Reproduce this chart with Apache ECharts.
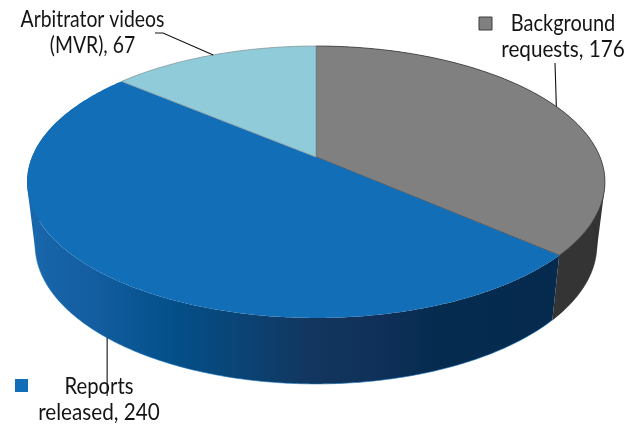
<!DOCTYPE html>
<html>
<head>
<meta charset="utf-8">
<style>html,body{margin:0;padding:0;background:#fff}#chart{width:642px;height:424px}</style>
<script src="https://cdn.jsdelivr.net/npm/echarts@6/dist/echarts.min.js"></script>
</head>
<body>
<div id="chart"></div>
<script>
// Request outcomes
const categories = ['Background requests', 'Reports released', 'Arbitrator videos (MVR)'];
const values = [176, 240, 67];
const labelLines = [['Background', 'requests, 176'], ['Reports', 'released, 240'], ['Arbitrator videos', '(MVR), 67']];

// Styling per slice
const faceColors = ['#808080', '#116eb7', '#8fcbd9'];
const faceStrokes = ['#3c3c3c', null, '#8c9a9e'];
const legendSlices = [0, 1];

// Label layout per slice: text centre, first line y, leader elbow, swatch corner
const labelCentres = [[563, 24], [99, 387], [92.5, 20]];
const leaderEnds = [[[555, 63]], [[107.5, 396]], [[163, 33], [155, 33]]];
const swatches = [[479, 17], [15, 379]];
const LINE_HEIGHT = 25.5;
const FONT = '22.5px Lato, "Open Sans", sans-serif';
const TEXT_SQUEEZE = [[0.89, 0.92], [0.9, 0.92], [0.86, 0.86]];

// Tilted disc: a perspective projection of the unit circle
const APEX = [316, 157];
const PROJ = { a: 102.5, c: -0.1838, d: 284 };
const TOP_CENTRE_Y = 182;
const BOTTOM = { cy: 245, sx: 0.972, sy: 1.022 };

const total = values.reduce((s, v) => s + v, 0);
const startAngle = i => values.slice(0, i).reduce((s, v) => s + v, 0) / total * Math.PI * 2;

function topRim(theta) {
  const v = Math.sin(theta), u = -Math.cos(theta), w = 1 + PROJ.c * u;
  return [APEX[0] + PROJ.d * v / w, (PROJ.a * u + APEX[1]) / w];
}
function bottomRim(theta) {
  const p = topRim(theta);
  return [APEX[0] + (p[0] - APEX[0]) * BOTTOM.sx, BOTTOM.cy + (p[1] - TOP_CENTRE_Y) * BOTTOM.sy];
}
function arc(a0, a1, fn) {
  const n = Math.max(2, Math.ceil((a1 - a0) / 0.01)), pts = [];
  for (let k = 0; k <= n; k++) pts.push(fn(a0 + (a1 - a0) * k / n));
  return pts;
}
function quadPath(q) {
  // Keep one winding so the overlapping quads fill as a single shape
  let area = 0;
  q.forEach((p, k) => { const n = q[(k + 1) % 4]; area += p[0] * n[1] - n[0] * p[1]; });
  const pts = area < 0 ? q.slice().reverse() : q;
  return 'M' + pts.map(p => p[0].toFixed(2) + ' ' + p[1].toFixed(2)).join('L') + 'Z';
}

// Side wall shading runs left to right across the disc
const wallFills = [
  '#333433',
  { type: 'linear', x: 20, y: 0, x2: 600, y2: 0, global: true, colorStops: [
    { offset: 0, color: '#1b68ae' },
    { offset: 0.13, color: '#135da0' },
    { offset: 0.26, color: '#03508a' },
    { offset: 0.40, color: '#0b4272' },
    { offset: 0.50, color: '#12365f' },
    { offset: 0.62, color: '#0f3059' },
    { offset: 0.72, color: '#052b4f' },
    { offset: 1, color: '#052a4e' }
  ] },
  '#8fcbd9'
];
const wallEdges = ['#2a2a2a', '#1a74bd', null];

function renderWall(params, api) {
  const i = params.dataIndex;
  const a0 = startAngle(i), a1 = a0 + api.value(0) / total * Math.PI * 2;
  const top = arc(a0, a1, topRim), bot = arc(a0, a1, bottomRim);
  let pathData = '';
  for (let k = 0; k + 1 < top.length; k++) {
    pathData += quadPath([top[k], top[k + 1], bot[k + 1], bot[k]]);
  }
  const children = [{ type: 'path', shape: { pathData }, style: { fill: wallFills[i] } }];
  if (wallEdges[i]) children.push({
    type: 'polyline', shape: { points: bot },
    style: { fill: null, stroke: wallEdges[i], lineWidth: 0.6 }
  });
  return { type: 'group', children };
}

function renderFace(params, api) {
  const i = params.dataIndex;
  const a0 = startAngle(i), a1 = a0 + api.value(0) / total * Math.PI * 2, mid = (a0 + a1) / 2;
  const children = [{
    type: 'polygon',
    shape: { points: [APEX].concat(arc(a0, a1, topRim)) },
    style: { fill: faceColors[i], stroke: faceStrokes[i], lineWidth: 0.8 }
  }];
  // Leader line from the slice's mid-angle on the rim
  const front = mid > Math.PI / 2 && mid < Math.PI * 1.5;
  const anchor = front ? bottomRim(mid) : topRim(mid);
  const points = front ? [anchor, [anchor[0], leaderEnds[i][0][1]]] : [anchor].concat(leaderEnds[i]);
  children.push({
    type: 'polyline', shape: { points },
    style: { fill: null, stroke: '#111', lineWidth: 1.1 }
  });
  labelLines[i].forEach((line, k) => children.push({
    type: 'text', z2: 5,
    x: labelCentres[i][0], y: labelCentres[i][1] + k * LINE_HEIGHT, scaleX: TEXT_SQUEEZE[i][k],
    style: { text: line, x: 0, y: 0, align: 'center', verticalAlign: 'middle', font: FONT, fill: '#141414' }
  }));
  const sw = legendSlices.indexOf(i);
  if (sw >= 0) children.push({
    type: 'rect',
    shape: { x: swatches[sw][0], y: swatches[sw][1], width: 13, height: 13 },
    style: { fill: faceColors[i], stroke: faceStrokes[i], lineWidth: 1 }
  });
  return { type: 'group', children };
}

const rows = values.map((v, i) => ({ name: categories[i], value: [v] }));
const chart = echarts.init(document.getElementById('chart'), null, { renderer: 'canvas' });
chart.setOption({
  animation: false,
  backgroundColor: '#fff',
  series: [
    { type: 'custom', name: 'walls', coordinateSystem: 'none', renderItem: renderWall, data: rows, z: 1, silent: true },
    { type: 'custom', name: 'faces', coordinateSystem: 'none', renderItem: renderFace, data: rows, z: 2, silent: true }
  ]
});
</script>
</body>
</html>
